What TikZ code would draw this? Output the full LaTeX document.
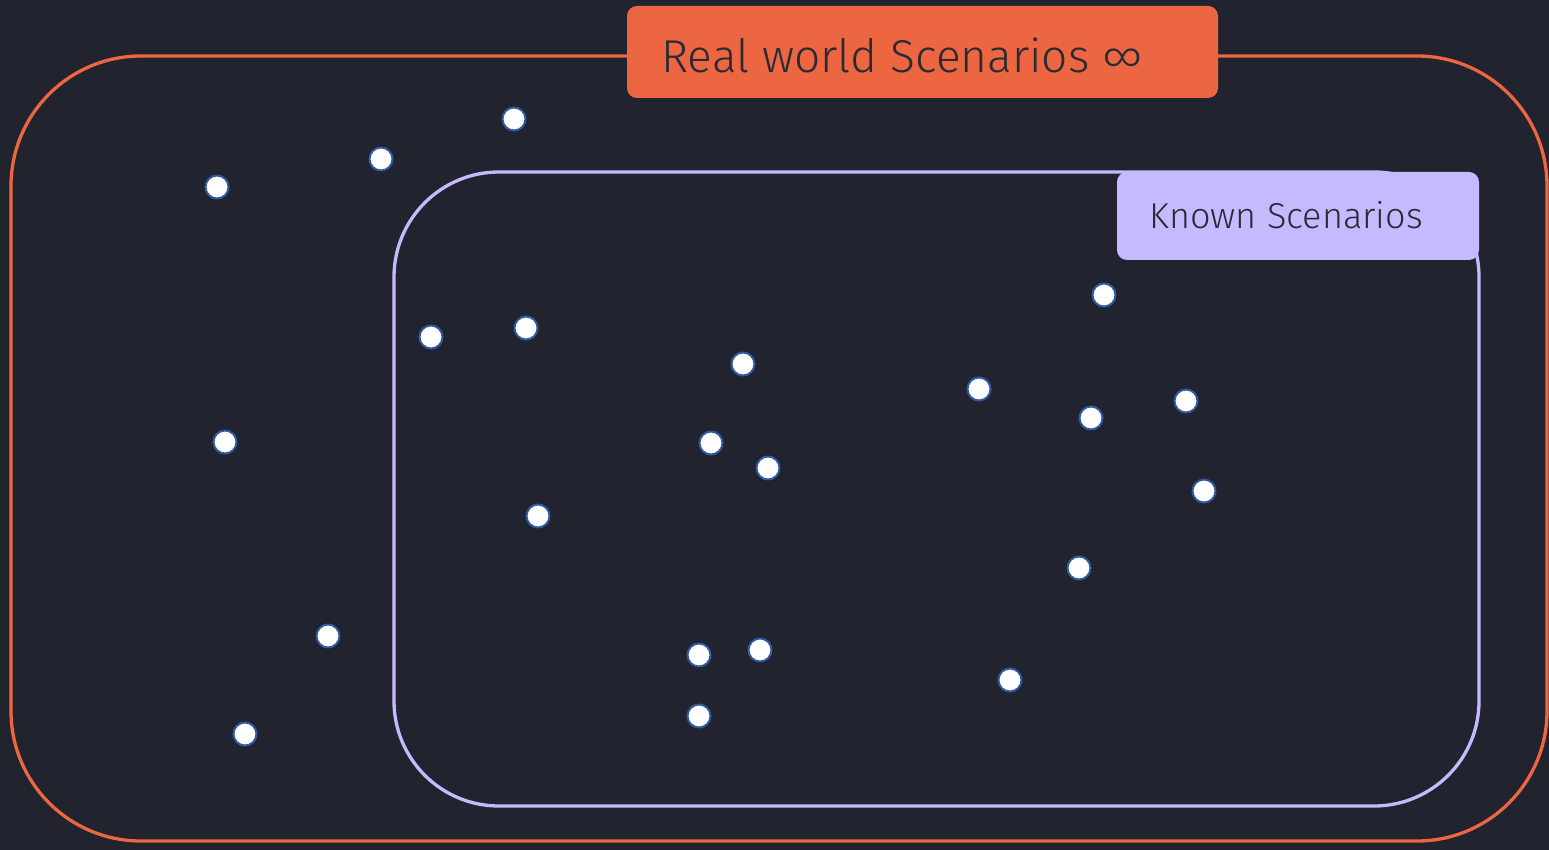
\documentclass[tikz,border=0pt]{standalone}
\usepackage{fontspec}
\setmainfont{Fira Sans}[UprightFont={* Light}]
\definecolor{bg}{HTML}{21232E}
\definecolor{orng}{HTML}{EC6642}
\definecolor{lav}{HTML}{C5BAFF}
\definecolor{ink}{HTML}{2A2A35}
\definecolor{dotb}{HTML}{2F5AA0}
\begin{document}
\begin{tikzpicture}[x=1pt,y=-1pt,
  dot/.style={circle,fill=white,draw=dotb,line width=2pt,minimum size=23pt,inner sep=0pt},
  outerbox/.style={draw=orng,line width=3.3pt,rounded corners=130pt},
  innerbox/.style={draw=lav,line width=3.3pt,rounded corners=105pt}]
\fill[bg] (0,0) rectangle (1549,850);
\useasboundingbox (0,0) rectangle (1549,850);
\draw[outerbox] (11,56) rectangle (1547,841);
\draw[innerbox] (394,172) rectangle (1479,806);
\fill[orng,rounded corners=10pt] (627,6) rectangle (1218,98);
\node[anchor=west,text=ink,font=\fontsize{46}{50}\selectfont] (rw) at (658,55) {Real world Scenarios ∞};
\fill[lav,rounded corners=10pt] (1117,172) rectangle (1479,260);
\node[anchor=west,text=ink,font=\fontsize{36}{40}\selectfont] (ks) at (1146,215) {Known Scenarios};
\foreach \x/\y [count=\i] in {514/119,381/159,217/187,431/337,526/328,743/364,225/442,711/443,768/468,538/516,328/636,699/655,760/650,699/716,245/734,1104/295,979/389,1091/418,1186/401,1204/491,1079/568,1010/680}
  \node[dot] (d\i) at (\x,\y) {};
\end{tikzpicture}
\end{document}
